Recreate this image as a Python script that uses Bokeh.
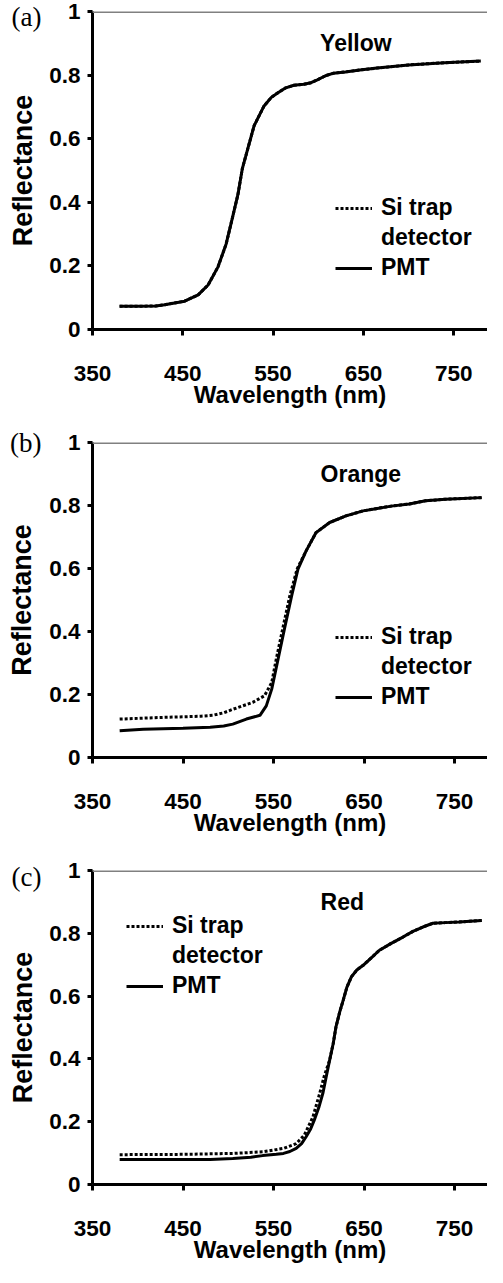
from bokeh.plotting import figure
from bokeh.models import FixedTicker, Span, Label, Legend, LegendItem, Range1d, LinearAxis
from bokeh.layouts import column
from bokeh.embed import file_html
from bokeh.resources import INLINE

# ---------------- data ----------------
X_TICKS = [350, 450, 550, 650, 750]
Y_TICKS = [0, 0.2, 0.4, 0.6, 0.8, 1]
Y_LABELS = ["0", "0.2", "0.4", "0.6", "0.8", "1"]

# (a) Yellow
a_wl = [380, 400, 420, 430, 452, 467, 478, 489, 498, 505, 511, 516, 522, 529, 540, 548, 555, 564,
        573, 584, 592, 599, 608, 617, 630, 646, 665, 700, 740, 780]
a_pmt = [0.073, 0.073, 0.074, 0.078, 0.089, 0.109, 0.140, 0.197, 0.269, 0.352, 0.424, 0.507, 0.569,
         0.641, 0.703, 0.730, 0.744, 0.760, 0.768, 0.771, 0.776, 0.785, 0.798, 0.806, 0.810, 0.816,
         0.822, 0.832, 0.839, 0.844]
a_si = [0.073, 0.073, 0.074, 0.078, 0.089, 0.109, 0.140, 0.197, 0.269, 0.352, 0.424, 0.507, 0.569,
        0.641, 0.703, 0.730, 0.744, 0.760, 0.768, 0.771, 0.776, 0.785, 0.798, 0.806, 0.810, 0.816,
        0.822, 0.832, 0.839, 0.844]

# (b) Orange
b_wl_pmt = [380, 406, 450, 480, 495, 505, 520, 535, 542, 548, 555, 562, 570, 577, 586, 597, 612,
            630, 649, 663, 680, 700, 718, 740, 780]
b_pmt = [0.085, 0.090, 0.093, 0.096, 0.100, 0.106, 0.122, 0.134, 0.164, 0.217, 0.312, 0.407, 0.513,
         0.598, 0.656, 0.714, 0.746, 0.767, 0.783, 0.790, 0.798, 0.805, 0.815, 0.820, 0.825]
b_wl_si = [380, 425, 470, 483, 495, 505, 527, 540, 548, 553, 560, 568, 576, 586, 597, 612, 630, 649,
           663, 680, 700, 718, 740, 780]
b_si = [0.122, 0.127, 0.131, 0.134, 0.142, 0.153, 0.175, 0.196, 0.238, 0.312, 0.407, 0.513, 0.598,
        0.656, 0.714, 0.746, 0.767, 0.783, 0.790, 0.798, 0.805, 0.815, 0.820, 0.825]

# (c) Red
c_wl_pmt = [380, 480, 505, 525, 538, 553, 561, 568, 575, 581, 586, 591, 595, 600, 604.5, 608, 612,
            616, 619, 623, 627, 631, 636, 642, 649, 658, 667, 680, 693, 704, 715, 726, 740, 755, 780]
c_pmt = [0.080, 0.080, 0.083, 0.087, 0.092, 0.096, 0.099, 0.105, 0.115, 0.130, 0.152, 0.177, 0.205,
         0.245, 0.290, 0.340, 0.396, 0.450, 0.502, 0.548, 0.587, 0.628, 0.661, 0.683, 0.698, 0.722,
         0.746, 0.768, 0.788, 0.806, 0.820, 0.832, 0.834, 0.836, 0.841]
c_wl_si = [380, 450, 505, 538, 561, 575, 584, 593.5, 601, 606, 612, 616, 619, 623, 627, 631, 636,
           642, 649, 658, 667, 680, 693, 704, 715, 726, 740, 755, 780]
c_si = [0.095, 0.096, 0.099, 0.104, 0.115, 0.130, 0.157, 0.215, 0.290, 0.345, 0.396, 0.450, 0.502,
        0.548, 0.587, 0.628, 0.661, 0.683, 0.698, 0.722, 0.746, 0.768, 0.788, 0.806, 0.820, 0.832,
        0.834, 0.836, 0.841]

SERIES_NAMES = ["Si trap", "detector", "PMT"]
PANEL_TAGS = ["(a)", "(b)", "(c)"]
PANEL_NAMES = ["Yellow", "Orange", "Red"]

SANS = "Liberation Sans"
SERIF = "Liberation Serif"


def make_panel(tag, name, wl_si, r_si, wl_pmt, r_pmt, height, top, bottom, left, x_end,
               legend_loc, tag_pos, tag_standoff, ylabel_standoff):
    p = figure(width=483, height=height, x_range=Range1d(350, x_end), y_range=Range1d(0, 1),
               output_backend="svg", toolbar_location=None,
               min_border_left=left - 4, min_border_right=0,
               min_border_top=top, min_border_bottom=bottom, margin=(0, 0, 0, 4))
    p.outline_line_color = None
    p.grid.visible = False
    p.background_fill_color = "white"
    p.border_fill_color = "white"

    xa = p.xaxis[0]
    ya = p.yaxis[0]
    xa.ticker = FixedTicker(ticks=X_TICKS)
    ya.ticker = FixedTicker(ticks=Y_TICKS)
    ya.major_label_overrides = {t: l for t, l in zip(Y_TICKS, Y_LABELS)}

    for ax in (xa, ya):
        ax.axis_line_width = 3
        ax.axis_line_color = "black"
        ax.major_tick_line_width = 3
        ax.major_tick_line_color = "black"
        ax.major_tick_in = 0
        ax.minor_tick_in = 0
        ax.minor_tick_out = 0
        ax.major_label_text_font = SANS
        ax.major_label_text_font_style = "bold"
        ax.major_label_text_font_size = "22.5px"
        ax.major_label_text_color = "black"

    xa.major_tick_out = 6
    xa.major_label_standoff = 30
    xa.axis_label = "Wavelength (nm)"
    xa.axis_label_text_font = SANS
    xa.axis_label_text_font_style = "bold"
    xa.axis_label_text_font_size = "24px"
    xa.axis_label_text_color = "black"
    xa.axis_label_standoff = -3

    ya.major_tick_out = 5
    ya.major_label_standoff = 7

    # outer left axis: carries the panel tag (as its only tick label) and the y title
    tag_axis = LinearAxis(ticker=FixedTicker(ticks=[tag_pos]),
                          major_label_overrides={tag_pos: tag},
                          axis_line_color=None, major_tick_line_color=None,
                          minor_tick_line_color=None,
                          major_tick_in=0, major_tick_out=0, minor_tick_in=0, minor_tick_out=0,
                          major_label_standoff=tag_standoff,
                          major_label_text_font=SERIF, major_label_text_font_size="27px",
                          major_label_text_font_style="normal", major_label_text_color="black",
                          axis_label="Reflectance", axis_label_text_font=SANS,
                          axis_label_text_font_style="bold", axis_label_text_font_size="27px",
                          axis_label_text_color="black", axis_label_standoff=ylabel_standoff)
    p.add_layout(tag_axis, "left")

    p.add_layout(Span(location=1, dimension="width", line_color="#808080", line_width=3))

    r_dot = p.line(wl_si, r_si, line_color="black", line_width=3, line_dash="3 2")
    r_sol = p.line(wl_pmt, r_pmt, line_color="black", line_width=3)
    r_blank = p.line(x=[], y=[], line_alpha=0)

    legend = Legend(items=[LegendItem(label=SERIES_NAMES[0], renderers=[r_dot]),
                           LegendItem(label=SERIES_NAMES[1], renderers=[r_blank]),
                           LegendItem(label=SERIES_NAMES[2], renderers=[r_sol])],
                    location=legend_loc, orientation="vertical",
                    glyph_width=37, glyph_height=20, label_standoff=9,
                    label_text_font=SANS, label_text_font_style="bold",
                    label_text_font_size="23px", label_text_color="black",
                    label_height=24, spacing=3, padding=0, margin=0,
                    border_line_alpha=0, background_fill_alpha=0)
    p.add_layout(legend)

    p.add_layout(Label(x=602, y=0.9, text=name, text_align="left", text_baseline="middle",
                       text_font=SANS, text_font_style="bold", text_font_size="23px",
                       text_color="black"))
    return p


pa = make_panel(PANEL_TAGS[0], PANEL_NAMES[0], a_wl, a_si, a_wl, a_pmt,
                height=427, top=11, bottom=98, left=89, x_end=787.4,
                legend_loc=(243, 48), tag_pos=0.992, tag_standoff=5, ylabel_standoff=-29)
pb = make_panel(PANEL_TAGS[1], PANEL_NAMES[1], b_wl_si, b_si, b_wl_pmt, b_pmt,
                height=428, top=15, bottom=98, left=91, x_end=786.4,
                legend_loc=(243, 47), tag_pos=1.0, tag_standoff=5, ylabel_standoff=-30)
pc = make_panel(PANEL_TAGS[2], PANEL_NAMES[2], c_wl_si, c_si, c_wl_pmt, c_pmt,
                height=412, top=15, bottom=83, left=91, x_end=786.4,
                legend_loc=(34, 185), tag_pos=0.978, tag_standoff=5, ylabel_standoff=-29)

layout = column(pa, pb, pc)
open("out.html", "w").write(file_html(layout, INLINE))
